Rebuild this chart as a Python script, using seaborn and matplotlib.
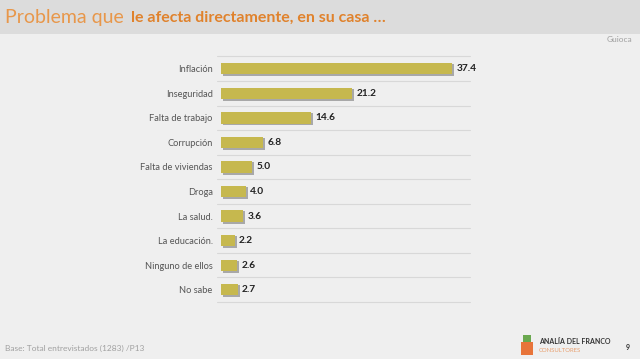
import matplotlib
matplotlib.use("Agg")
import matplotlib.pyplot as plt
import seaborn as sns
import pandas as pd
from matplotlib.patches import Rectangle

categories = ["Inflación", "Inseguridad", "Falta de trabajo", "Corrupción",
              "Falta de viviendas", "Droga", "La salud.", "La educación.",
              "Ninguno de ellos", "No sabe"]
values = [37.4, 21.2, 14.6, 6.8, 5.0, 4.0, 3.6, 2.2, 2.6, 2.7]
value_labels = ["37.4", "21.2", "14.6", "6.8", "5.0", "4.0", "3.6", "2.2", "2.6", "2.7"]

df = pd.DataFrame({"cat": categories, "val": values})

sns.set_theme(style="white")
plt.rcParams['font.family'] = ['Lato', 'DejaVu Sans']

fig = plt.figure(figsize=(6.4, 3.59), dpi=100)
fig.patch.set_facecolor("#efefef")
# header band
fig.patches.append(Rectangle((0, 1 - 34/359), 1, 34/359, transform=fig.transFigure,
                             facecolor="#dcdcdc", edgecolor="none", zorder=0))

ax = fig.add_axes([221/640, 1 - 302/359, 249/640, 245.5/359])
ax.set_facecolor("#efefef")

# shadow bars
sns.barplot(data=df, x="val", y="cat", ax=ax, color="#a8a8a8", width=0.5,
            saturation=1, edgecolor="none", zorder=1)
for p in ax.patches:
    p.set_x(p.get_x() + 0.35)
    p.set_y(p.get_y() + 0.06)
n_shadow = len(ax.patches)
sns.barplot(data=df, x="val", y="cat", ax=ax, color="#c6b84e", width=0.46,
            saturation=1, edgecolor="none", zorder=2)
for p in ax.patches[n_shadow:]:
    p.set_zorder(2)

ax.set_xlim(0, 40.3)
ax.set_ylim(len(categories) - 0.5, -0.5)
ax.set_xlabel("")
ax.set_ylabel("")
ax.set_xticks([])
for s in ax.spines.values():
    s.set_visible(False)
ax.tick_params(axis="y", length=0, pad=6, labelsize=6.7, labelcolor="#555555")

for i in range(len(categories) + 1):
    ax.axhline(i - 0.5, color="#d8d8d8", lw=0.8, xmin=-0.015, xmax=1, clip_on=False, zorder=0)

for i, (v, t) in enumerate(zip(values, value_labels)):
    ax.text(v + 0.7, i, t, va="center", ha="left", fontsize=7.3, fontweight="bold", color="#222222")

fig.text(5/640, 1 - 18/359, "Problema que ", fontsize=14, color="#e8974a",
         fontweight="normal", va="center", ha="left")
fig.text(131/640, 1 - 18/359, "le afecta directamente, en su casa …", fontsize=11.5,
         color="#e0822c", fontweight="bold", va="center", ha="left")
fig.text(632/640, 1 - 40/359, "Guioca", fontsize=6, color="#a0a0a0", ha="right", va="center")
fig.text(5/640, 1 - 348/359, "Base: Total entrevistados (1283) /P13", fontsize=6, color="#a0a0a0",
         ha="left", va="center")

# logo
fig.patches.append(Rectangle((521/640, 1 - 355/359), 12/640, 13/359, transform=fig.transFigure,
                             facecolor="#e8743a", edgecolor="none"))
fig.patches.append(Rectangle((523/640, 1 - 342/359), 8/640, 7/359, transform=fig.transFigure,
                             facecolor="#6aa84f", edgecolor="none"))
fig.text(539/640, 1 - 341/359, "ANALÍA DEL FRANCO", fontsize=5, fontweight="bold",
         color="#333333", ha="left", va="center")
fig.text(539/640, 1 - 351/359, "CONSULTORES", fontsize=4.3, color="#e8a070", ha="left", va="center")
fig.text(628/640, 1 - 347/359, "9", fontsize=5, fontweight="bold", color="#333333", ha="center", va="center")

fig.savefig("out.png", dpi=100, facecolor=fig.get_facecolor())
